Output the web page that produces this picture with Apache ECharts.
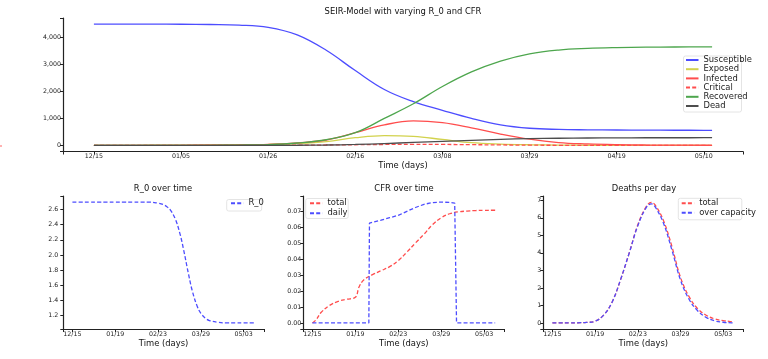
<!DOCTYPE html>
<html>
<head>
<meta charset="utf-8">
<script src="https://cdn.jsdelivr.net/npm/echarts@6/dist/echarts.min.js"></script>
<style>html,body{margin:0;padding:0;background:#fff;}#c{width:768px;height:359px;}</style>
</head>
<body>
<div id="c"></div>
<script>
// ---------- data ----------
const days = [0,7,14,21,28,35,42,49,56,63,70,77,84,91,98,105,112,119,126,133,140,147,149];
const susceptible = [4490,4489,4487,4483,4475,4455,4370,4090,3520,2770,2070,1620,1300,1000,760,635,592,578,570,565,562,560,560];
const exposed = [3,4,6,10,16,26,42,70,140,285,365,335,220,100,48,24,12,6,3,2,1,1,1];
const infected = [1,2,3,5,9,16,35,95,200,470,760,905,840,650,420,230,105,55,28,15,9,6,5];
const critical = [0,0,0,0,1,2,4,8,15,25,35,40,37,28,18,10,5,3,2,1,0.5,0.3,0.3];
const recovered = [0,0,1,2,5,12,30,90,210,470,1000,1540,2180,2720,3120,3390,3530,3590,3620,3635,3642,3645,3645];
const dead = [0,0,0,0,0,1,2,6,16,35,70,110,150,190,225,250,266,275,280,283,284,285,285];

const r0Days = [0,7,14,21,28,35,42,49,56,63,70,74,77,80,84,88,91,95,98,102,105,109,112,119,126,133,140,147,149];
const r0 = [2.7,2.7,2.7,2.7,2.7,2.7,2.7,2.7,2.7,2.7,2.685,2.668,2.641,2.595,2.48,2.276,2.061,1.739,1.524,1.32,1.227,1.159,1.132,1.108,1.1,1.1,1.1,1.1,1.1];

const cfrTotalDays = [0,3,7,14,21,28,35,38,42,49,56,63,70,77,84,91,98,105,112,119,126,133,140,147,149];
const cfrTotal = [0,0.002,0.0065,0.011,0.0135,0.0148,0.016,0.0225,0.027,0.0302,0.0327,0.0352,0.039,0.0443,0.050,0.0555,0.0615,0.0658,0.0683,0.0695,0.070,0.0703,0.0704,0.0705,0.0705];
const cfrDailyDays = [0,46,46.5,56,63,70,77,84,91,98,105,112,116,117,117.5,149];
const cfrDaily = [0,0,0.0625,0.0643,0.0658,0.0673,0.0698,0.0722,0.0742,0.0753,0.0756,0.0754,0.075,0.0748,0,0];

const deathDays = [0,7,14,21,28,35,42,49,56,63,70,77,81,84,91,98,105,112,119,126,133,140,147,149];
const deathsTotal = [0,0,0,0.01,0.03,0.1,0.45,1.2,2.5,4.0,5.6,6.65,6.88,6.75,5.85,4.35,2.6,1.5,0.82,0.44,0.23,0.13,0.08,0.07];
const deathsOverCapacity = [0,0,0,0.01,0.03,0.1,0.45,1.2,2.5,4.0,5.55,6.6,6.8,6.65,5.7,4.15,2.45,1.35,0.7,0.32,0.12,0.04,0.01,0];

const topTickDays = [0,21,42,63,84,105,126,147];
const topTickLabels = ['12/15','01/05','01/26','02/16','03/08','03/29','04/19','05/10'];
const bottomTickDays = [0,35,70,105,140];
const bottomTickLabels = ['12/15','01/19','02/23','03/29','05/03'];
const topYTicks = [0,1000,2000,3000,4000];
const r0YTicks = [1.2,1.4,1.6,1.8,2.0,2.2,2.4,2.6];
const cfrYTicks = [0,0.01,0.02,0.03,0.04,0.05,0.06,0.07];
const deathYTicks = [0,1,2,3,4,5,6,7];

// ---------- helpers ----------
const FONT = 'DejaVu Sans';
const AX = '#222';
const zip = (xs, ys) => xs.map((x, i) => [x, ys[i]]);
const C = {blue:'#4d4dff', yellow:'#d2d24d', red:'#ff4d4d', green:'#4da64d', black:'#4d4d4d'};

function xAx(gi, min, max, tDays, tLabels, gap) {
  return {
    type:'value', gridIndex:gi, min:min, max:max,
    axisLine:{show:true, onZero:false, lineStyle:{color:AX, width:1.2}},
    axisTick:{show:true, length:3, customValues:[min].concat(tDays,[max]), lineStyle:{color:AX, width:1}},
    axisLabel:{customValues:tDays, fontFamily:FONT, fontSize:6.3, color:AX, margin:2,
      formatter:function(v){ for (let i=0;i<tDays.length;i++){ if(Math.abs(tDays[i]-v)<1e-6) return tLabels[i]; } return ''; }},
    splitLine:{show:false},
    name:'Time (days)', nameLocation:'middle', nameGap:gap,
    nameTextStyle:{fontFamily:FONT, fontSize:8.4, color:'#111'}
  };
}
function yAx(gi, min, max, ticks, fmt, margin) {
  return {
    type:'value', gridIndex:gi, min:min, max:max,
    axisLine:{show:true, onZero:false, lineStyle:{color:AX, width:1.2}},
    axisTick:{show:true, length:3, customValues:[min].concat(ticks,[max]), lineStyle:{color:AX, width:1}},
    axisLabel:{customValues:ticks, fontFamily:FONT, fontSize:6.3, color:AX, margin:margin, formatter:fmt},
    splitLine:{show:false}
  };
}
function line(name, xi, yi, data, color, dashed, smooth) {
  return {
    type:'line', name:name, xAxisIndex:xi, yAxisIndex:yi, data:data,
    symbol:'none', showSymbol:false, smooth:smooth,
    lineStyle:{color:color, width:1.3, type: dashed ? [4,2.2] : 'solid'},
    itemStyle:{color:color}, silent:true, animation:false
  };
}
function legendCfg(names, left, top, gap) {
  return {
    data:names, orient:'vertical', left:left, top:top,
    itemWidth:12.5, itemHeight:8, itemGap:gap, padding:0,
    backgroundColor:'transparent', borderWidth:0,
    selectedMode:false, z:5,
    itemStyle:{opacity:0},
    textStyle:{fontFamily:FONT, fontSize:8.4, color:'#222'}
  };
}
function frame(x, y, w, h) {
  return {type:'rect', z:4, silent:true, shape:{x:x, y:y, width:w, height:h, r:2},
    style:{fill:'#fff', stroke:'#e4e4e4', lineWidth:1}};
}
function title(text, x, top) {
  return {text:text, left:x, top:top, textAlign:'center', padding:0,
    textStyle:{fontFamily:FONT, fontSize:8.4, fontWeight:'normal', color:'#111', lineHeight:10}};
}

const chart = echarts.init(document.getElementById('c'), null, {renderer:'canvas'});
chart.setOption({
  animation:false,
  backgroundColor:'#fff',
  title:[
    title('SEIR-Model with varying R_0 and CFR', 403, 6.5),
    title('R_0 over time', 163, 184),
    title('CFR over time', 404, 184),
    title('Deaths per day', 644, 184)
  ],
  graphic:[
    frame(683.5, 56, 58, 56),
    frame(226.7, 199.5, 35, 11.5),
    frame(305.7, 198.5, 42.5, 20),
    frame(678.3, 198.3, 63.5, 21.5),
    {type:'line', silent:true, shape:{x1:0, y1:146, x2:2, y2:146}, style:{stroke:'#ff6666', lineWidth:1.2}}
  ],
  grid:[
    {left:63, top:18, width:680, height:133.5},
    {left:63.3, top:196, width:200.5, height:133},
    {left:303.3, top:196, width:201, height:133},
    {left:543.3, top:196, width:200, height:133}
  ],
  xAxis:[
    xAx(0, -7.45, 156.45, topTickDays, topTickLabels, 10),
    xAx(1, -7.45, 156.45, bottomTickDays, bottomTickLabels, 10.5),
    xAx(2, -7.45, 156.45, bottomTickDays, bottomTickLabels, 10.5),
    xAx(3, -7.45, 156.45, bottomTickDays, bottomTickLabels, 10.5)
  ],
  yAxis:[
    yAx(0, -225, 4715, topYTicks, v => v.toLocaleString('en-US'), 2),
    yAx(1, 1.02, 2.78, r0YTicks, v => v.toFixed(1), 5),
    yAx(2, -0.0038, 0.0794, cfrYTicks, v => v.toFixed(2), 2),
    yAx(3, -0.345, 7.245, deathYTicks, v => String(v), 2)
  ],
  legend:[
    legendCfg(['Susceptible','Exposed','Infected','Critical','Recovered','Dead'], 685, 56, 1.2),
    legendCfg(['R_0'], 230, 199.3, 1.2),
    legendCfg(['total','daily'], 309, 199.3, 2),
    legendCfg(['total','over capacity'], 680.7, 199.3, 1.4)
  ],
  series:[
    line('Susceptible',0,0,zip(days,susceptible),C.blue,false,0.4),
    line('Exposed',0,0,zip(days,exposed),C.yellow,false,0.4),
    line('Infected',0,0,zip(days,infected),C.red,false,0.4),
    line('Critical',0,0,zip(days,critical),C.red,true,0.4),
    line('Recovered',0,0,zip(days,recovered),C.green,false,0.4),
    line('Dead',0,0,zip(days,dead),C.black,false,0.4),
    line('R_0',1,1,zip(r0Days,r0),C.blue,true,0.4),
    line('total',2,2,zip(cfrTotalDays,cfrTotal),C.red,true,0.4),
    line('daily',2,2,zip(cfrDailyDays,cfrDaily),C.blue,true,false),
    line('total',3,3,zip(deathDays,deathsTotal),C.red,true,0.4),
    line('over capacity',3,3,zip(deathDays,deathsOverCapacity),C.blue,true,0.4)
  ]
});
</script>
</body>
</html>
